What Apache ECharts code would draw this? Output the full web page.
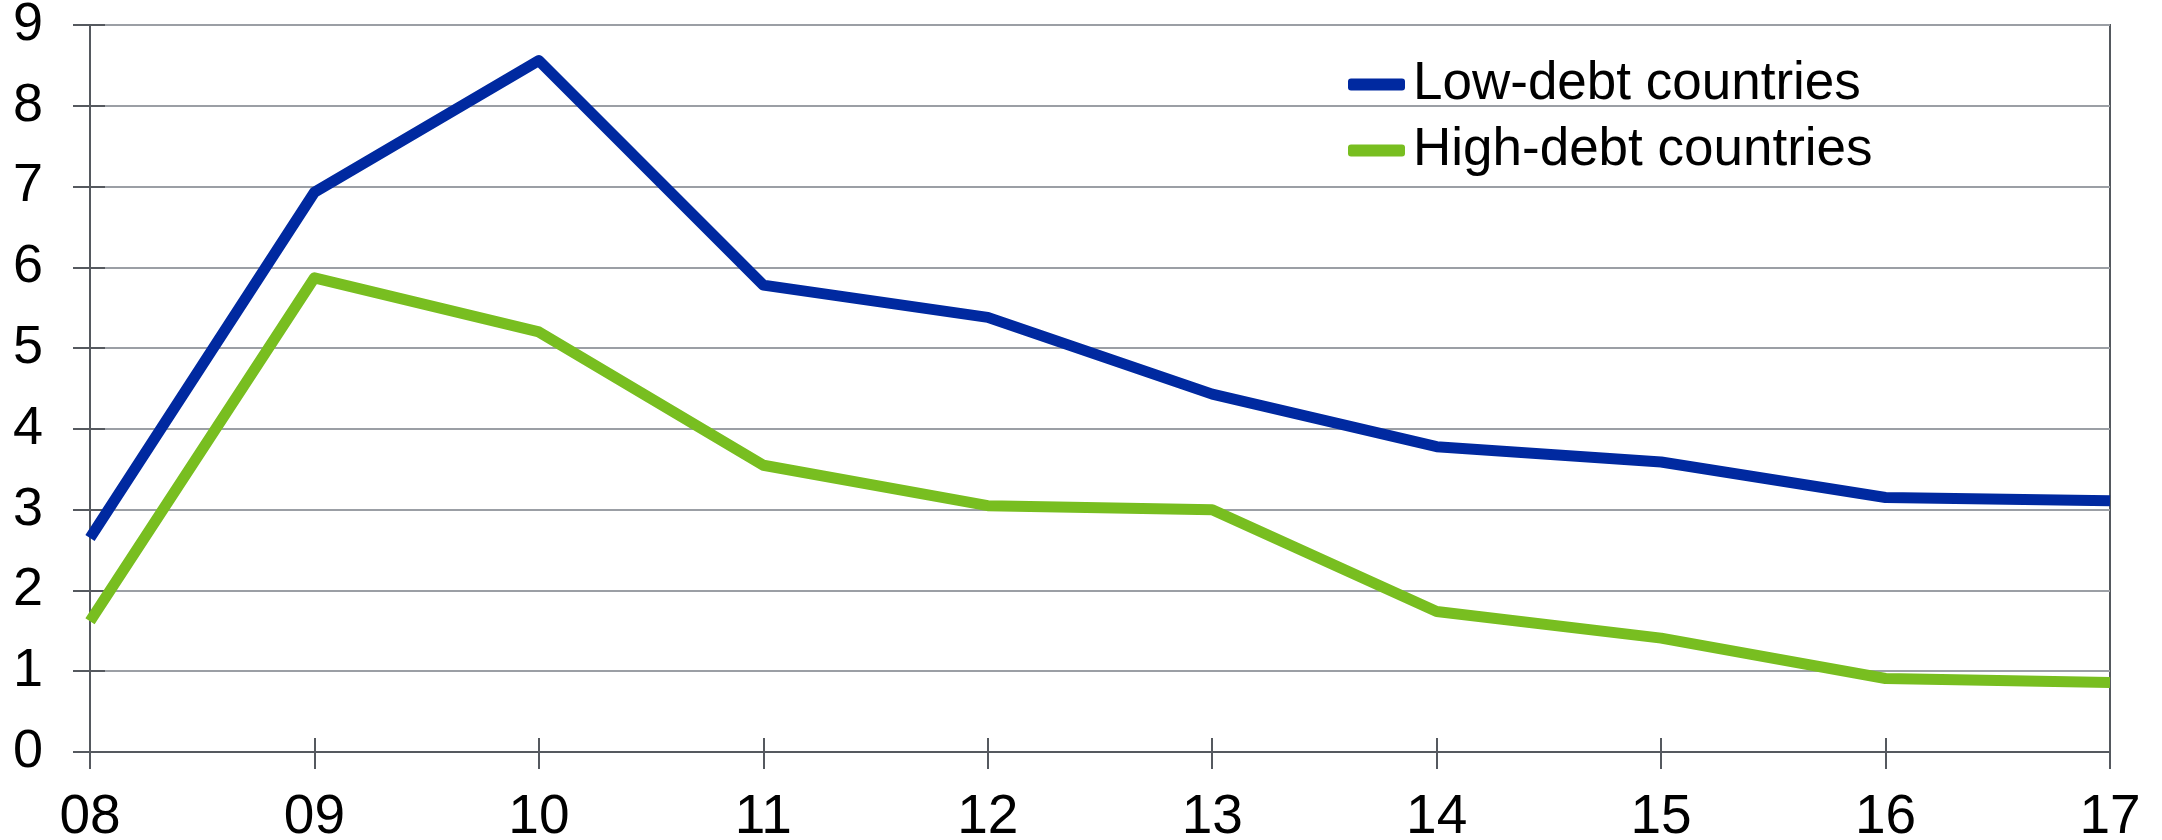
<!DOCTYPE html>
<html>
<head>
<meta charset="utf-8">
<title>Low- and high-debt countries</title>
<script src="https://cdn.jsdelivr.net/npm/echarts@6/dist/echarts.min.js"></script>
<style>
    html, body { margin: 0; padding: 0; background: #fff; }
    #lineChart { width: 2162px; height: 840px; }
</style>
</head>
<body>
<div id="lineChart"></div>
<script>
// 数据
var years = ['08', '09', '10', '11', '12', '13', '14', '15', '16', '17'];
var lowDebt = [2.65, 6.93, 8.56, 5.78, 5.38, 4.43, 3.78, 3.59, 3.15, 3.11];
var highDebt = [1.62, 5.87, 5.20, 3.55, 3.05, 3.00, 1.74, 1.41, 0.91, 0.86];
var yMin = 0;
var yMax = 9;
var yStep = 1;

var axisColor = '#55595f';
var gridColor = '#9b9fa5';
var font = '"Liberation Sans", Arial, sans-serif';

function showLine() {
    var myChart = echarts.init(document.getElementById('lineChart'));
    var option = {
        animation: false,
        grid: {
            show: true,
            left: 90,
            right: 52,
            top: 25,
            bottom: 88,
            outerBoundsMode: 'none',
            borderColor: axisColor,
            borderWidth: 2
        },
        legend: {
            orient: 'vertical',
            left: 1343,
            top: 53,
            itemGap: 13,
            itemWidth: 57,
            itemHeight: 12,
            icon: 'roundRect',
            textStyle: {
                fontFamily: font,
                fontSize: 53,
                color: '#000',
                padding: [0, 0, 0, 3]
            },
            data: ['Low-debt countries', 'High-debt countries']
        },
        xAxis: [
            {
                type: 'category',
                boundaryGap: false,
                data: years,
                axisLine: {
                    lineStyle: {color: axisColor, width: 2}
                },
                axisTick: {
                    show: true,
                    length: 17,
                    lineStyle: {color: axisColor, width: 2}
                },
                axisLabel: {
                    fontFamily: font,
                    fontSize: 55,
                    color: '#000',
                    margin: 38
                },
                splitLine: {show: false}
            },
            {
                // 内侧刻度（刻度线穿过坐标轴）
                type: 'category',
                position: 'bottom',
                boundaryGap: false,
                data: years,
                axisLine: {show: false},
                axisTick: {
                    show: true,
                    inside: true,
                    length: 14,
                    lineStyle: {color: axisColor, width: 2}
                },
                axisLabel: {show: false},
                splitLine: {show: false}
            }
        ],
        yAxis: [
            {
                type: 'value',
                min: yMin,
                max: yMax,
                interval: yStep,
                axisLine: {
                    show: true,
                    lineStyle: {color: axisColor, width: 2}
                },
                axisTick: {
                    show: true,
                    length: 17,
                    lineStyle: {color: axisColor, width: 2}
                },
                axisLabel: {
                    fontFamily: font,
                    fontSize: 54,
                    color: '#000',
                    margin: 47
                },
                splitLine: {
                    lineStyle: {color: gridColor, width: 2}
                }
            },
            {
                type: 'value',
                position: 'left',
                min: yMin,
                max: yMax,
                interval: yStep,
                axisLine: {show: false},
                axisTick: {
                    show: true,
                    inside: true,
                    length: 15,
                    lineStyle: {color: axisColor, width: 2}
                },
                axisLabel: {show: false},
                splitLine: {show: false}
            }
        ],
        series: [
            {
                name: 'Low-debt countries',
                type: 'line',
                data: lowDebt,
                symbol: 'none',
                lineStyle: {color: '#0029a0', width: 11, join: 'round'},
                itemStyle: {color: '#0029a0'},
                z: 3
            },
            {
                name: 'High-debt countries',
                type: 'line',
                data: highDebt,
                symbol: 'none',
                lineStyle: {color: '#78be20', width: 11, join: 'round'},
                itemStyle: {color: '#78be20'},
                z: 3
            }
        ]
    };
    myChart.setOption(option);
}

showLine();
</script>
</body>
</html>
